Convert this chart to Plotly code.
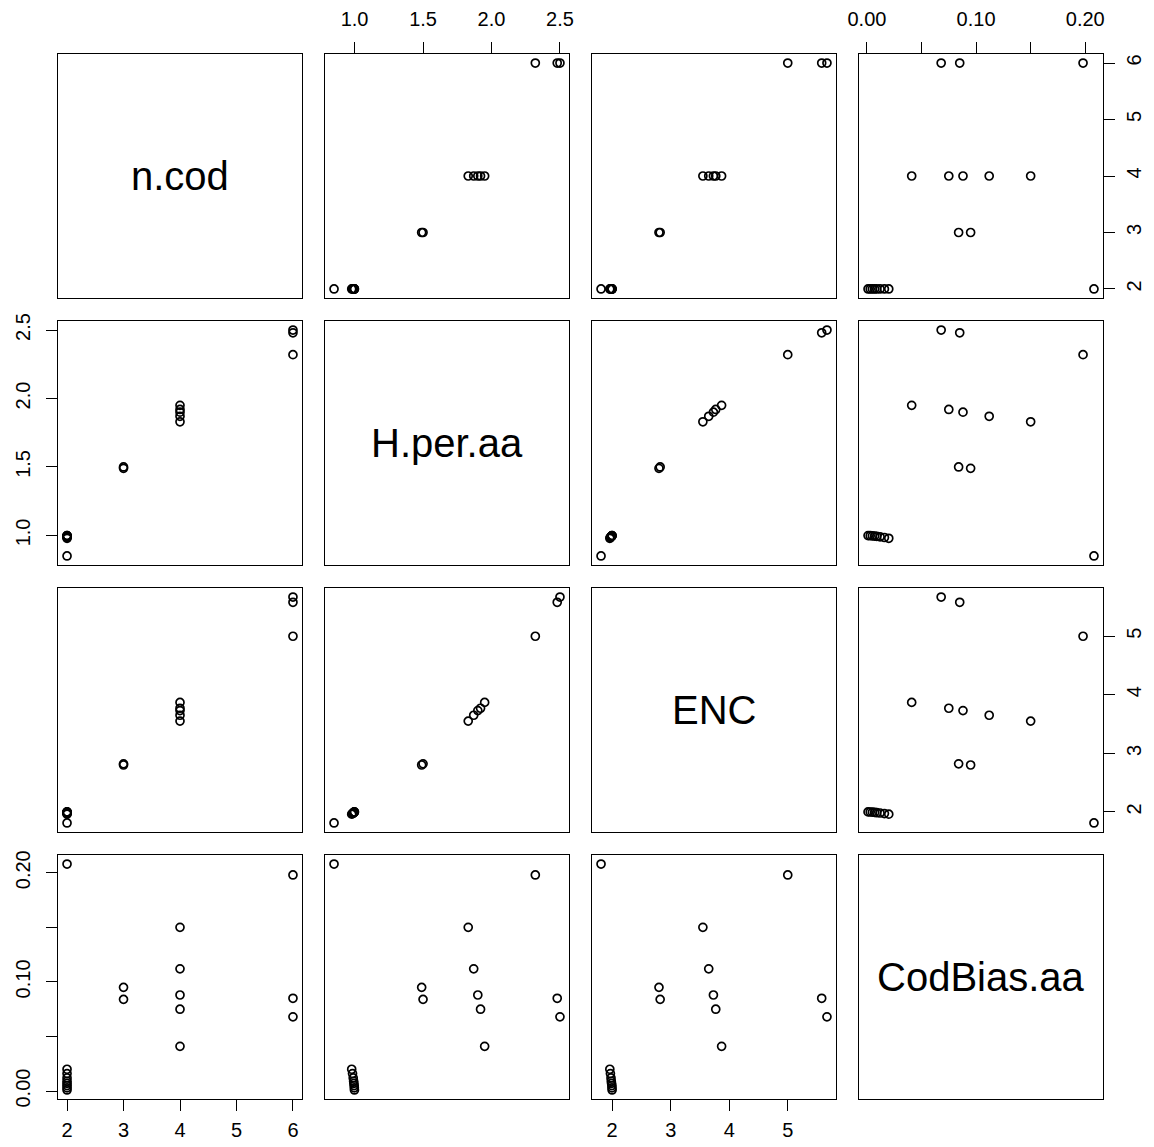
import plotly.graph_objects as go

# ---- data ----
names = ["n.cod", "H.per.aa", "ENC", "CodBias.aa"]
n_cod = [2, 2, 2, 2, 2, 2, 2, 2, 2, 3, 3, 4, 4, 4, 4, 4, 6, 6, 6]
h_per_aa = [0.85, 0.999, 0.998, 0.997, 0.995, 0.993, 0.990, 0.985, 0.979,
            1.50, 1.49, 1.95, 1.92, 1.90, 1.87, 1.83, 2.50, 2.48, 2.32]
enc = [1.81, 1.999, 1.997, 1.995, 1.99, 1.985, 1.98, 1.97, 1.96,
       2.82, 2.80, 3.87, 3.77, 3.73, 3.65, 3.55, 5.67, 5.58, 5.00]
cod_bias = [0.208, 0.001, 0.003, 0.005, 0.007, 0.009, 0.012, 0.016, 0.020,
            0.084, 0.095, 0.041, 0.075, 0.088, 0.112, 0.150, 0.068, 0.085, 0.198]

tick_vals = [[2, 3, 4, 5, 6], [1.0, 1.5, 2.0, 2.5], [2, 3, 4, 5], [0, 0.05, 0.10, 0.15, 0.20]]
tick_text = [["2", "3", "4", "5", "6"], ["1.0", "1.5", "2.0", "2.5"], ["2", "3", "4", "5"],
             ["0.00", "", "0.10", "", "0.20"]]

data = [n_cod, h_per_aa, enc, cod_bias]

# ---- layout geometry ----
W, H = 1154, 1147
col_px = [(58, 302), (325, 569), (592, 836), (859, 1103)]
row_px = [(54, 298), (321, 565), (588, 832), (855, 1099)]
FONT = "Liberation Sans, Arial, Helvetica, sans-serif"


def rng(v):
    lo, hi = min(v), max(v)
    pad = 0.04 * (hi - lo)
    return [lo - pad, hi + pad]


fig = go.Figure()
layout = dict(
    width=W, height=H,
    margin=dict(l=0, r=0, t=0, b=0, autoexpand=False),
    paper_bgcolor="white", plot_bgcolor="white",
    showlegend=False,
    font=dict(family=FONT, size=20, color="black"),
)
annotations = []

for r in range(4):
    for c in range(4):
        k = r * 4 + c + 1
        xa = "x" if k == 1 else f"x{k}"
        ya = "y" if k == 1 else f"y{k}"
        xkey = "xaxis" if k == 1 else f"xaxis{k}"
        ykey = "yaxis" if k == 1 else f"yaxis{k}"
        if r == c:
            fig.add_trace(go.Scatter(x=[], y=[], xaxis=xa, yaxis=ya, mode="markers",
                                     hoverinfo="skip"))
            annotations.append(dict(text=names[r], xref=f"{xa} domain", yref=f"{ya} domain",
                                    x=0.5, y=0.5, showarrow=False,
                                    font=dict(family=FONT, size=40, color="black")))
        else:
            fig.add_trace(go.Scatter(
                x=data[c], y=data[r], xaxis=xa, yaxis=ya, mode="markers",
                marker=dict(symbol="circle-open", size=8, color="black",
                            line=dict(color="black", width=1.7)),
                cliponaxis=False,
            ))

        # x axis
        xd = dict(domain=[col_px[c][0] / W, col_px[c][1] / W], range=rng(data[c]),
                  anchor=ya, showline=True, mirror=True, linecolor="black", linewidth=1.3,
                  showgrid=False, zeroline=False, showticklabels=False, ticks="",
                  fixedrange=True, automargin=False)
        show_top = (r == 0 and c in (1, 3))
        show_bottom = (r == 3 and c in (0, 2))
        if show_top or show_bottom:
            xd.update(side="top" if show_top else "bottom", ticks="outside", ticklen=11,
                      tickwidth=1.3, tickcolor="black", showticklabels=True,
                      tickmode="array", tickvals=tick_vals[c], ticktext=tick_text[c],
                      tickfont=dict(family=FONT, size=20, color="black"),
                      ticklabelstandoff=8 if show_top else 2)
        layout[xkey] = xd

        # y axis
        yd = dict(domain=[1 - row_px[r][1] / H, 1 - row_px[r][0] / H], range=rng(data[r]),
                  anchor=xa, showline=True, mirror=True, linecolor="black", linewidth=1.3,
                  showgrid=False, zeroline=False, showticklabels=False, ticks="",
                  fixedrange=True, automargin=False)
        show_left = (c == 0 and r in (1, 3))
        show_right = (c == 3 and r in (0, 2))
        if show_left or show_right:
            yd.update(side="left" if show_left else "right", ticks="outside", ticklen=11,
                      tickwidth=1.3, tickcolor="black", showticklabels=True,
                      tickmode="array", tickvals=tick_vals[r], ticktext=tick_text[r],
                      tickangle=-90,
                      tickfont=dict(family=FONT, size=20, color="black"),
                      ticklabelstandoff=8 if show_left else 2)
        layout[ykey] = yd

layout["annotations"] = annotations
fig.update_layout(**layout)
fig.write_html("out.html")
